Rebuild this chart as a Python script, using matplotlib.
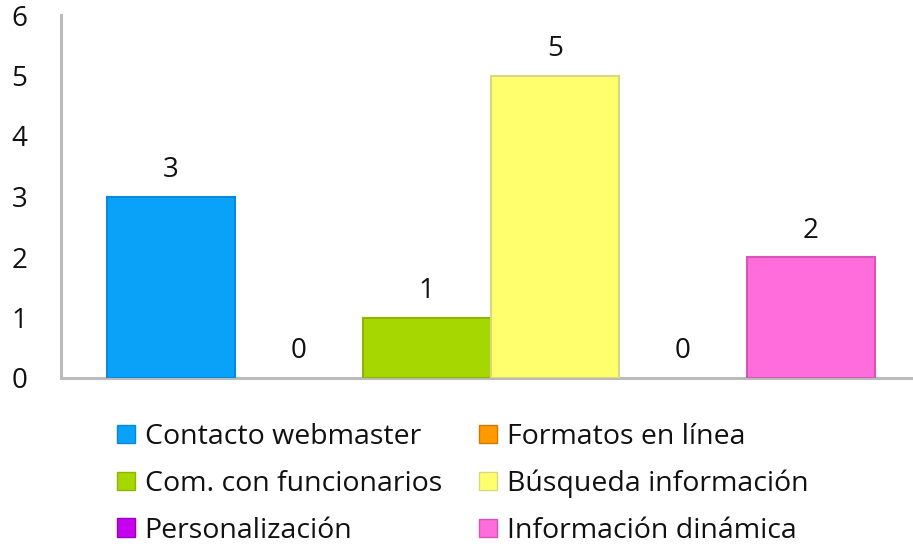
import matplotlib
matplotlib.use("Agg")
import matplotlib.pyplot as plt

categories = ["Contacto webmaster", "Formatos en línea", "Com. con funcionarios",
              "Búsqueda información", "Personalización", "Información dinámica"]
values = [3, 0, 1, 5, 0, 2]
colors = ["#0AA2F8", "#FF9A00", "#A6D800", "#FFFF6E", "#C800F0", "#FF6CDC"]
edges = ["#0A86DA", "#D07800", "#8CB400", "#D8D880", "#9A00C0", "#D855B8"]
yticks = [0, 1, 2, 3, 4, 5, 6]

plt.rcParams['font.family'] = ['Open Sans', 'DejaVu Sans']
W, H = 913, 550
fig = plt.figure(figsize=(W / 100, H / 100), dpi=100)
ax = fig.add_axes([61 / W, 1 - 378 / H, 1 - 61 / W, (378 - 15) / H])

x = list(range(len(categories)))
bars = ax.bar(x, values, width=1.0, color=colors, edgecolor=edges,
              linewidth=[1.5 if v > 0 else 0 for v in values], label=categories)
for xi, v in zip(x, values):
    ax.annotate(str(v), (xi, v), xytext=(0, 9), textcoords="offset points",
                ha="center", va="bottom", fontsize=20, color="#111111")

ax.set_xlim(-0.86, 5.80)
ax.set_ylim(0, 6)
ax.set_yticks(yticks)
ax.set_xticks([])
ax.tick_params(axis="y", length=0, pad=30, labelsize=20, labelcolor="#111111")
for lbl in ax.get_yticklabels():
    lbl.set_horizontalalignment("center")
for s in ["top", "right"]:
    ax.spines[s].set_visible(False)
for s in ["left", "bottom"]:
    ax.spines[s].set_color("#BBBBBB")
    ax.spines[s].set_linewidth(2.2)
ax.spines["bottom"].set_zorder(0.5)

handles = list(bars)
leg_kw = dict(frameon=False, fontsize=20.5, handlelength=0.62, handleheight=0.62,
              handletextpad=0.35, labelspacing=0.66, borderpad=0, borderaxespad=0)
leg1 = fig.legend([handles[i] for i in (0, 2, 4)], [categories[i] for i in (0, 2, 4)],
                  loc="upper left", bbox_to_anchor=(117 / W, 1 - 423 / H), **leg_kw)
leg2 = fig.legend([handles[i] for i in (1, 3, 5)], [categories[i] for i in (1, 3, 5)],
                  loc="upper left", bbox_to_anchor=(479 / W, 1 - 423 / H), **leg_kw)
for leg in (leg1, leg2):
    for t in leg.get_texts():
        t.set_color("#111111")
    for h in leg.legend_handles:
        h.set_linewidth(1.0)

fig.savefig("out.png", dpi=100)
